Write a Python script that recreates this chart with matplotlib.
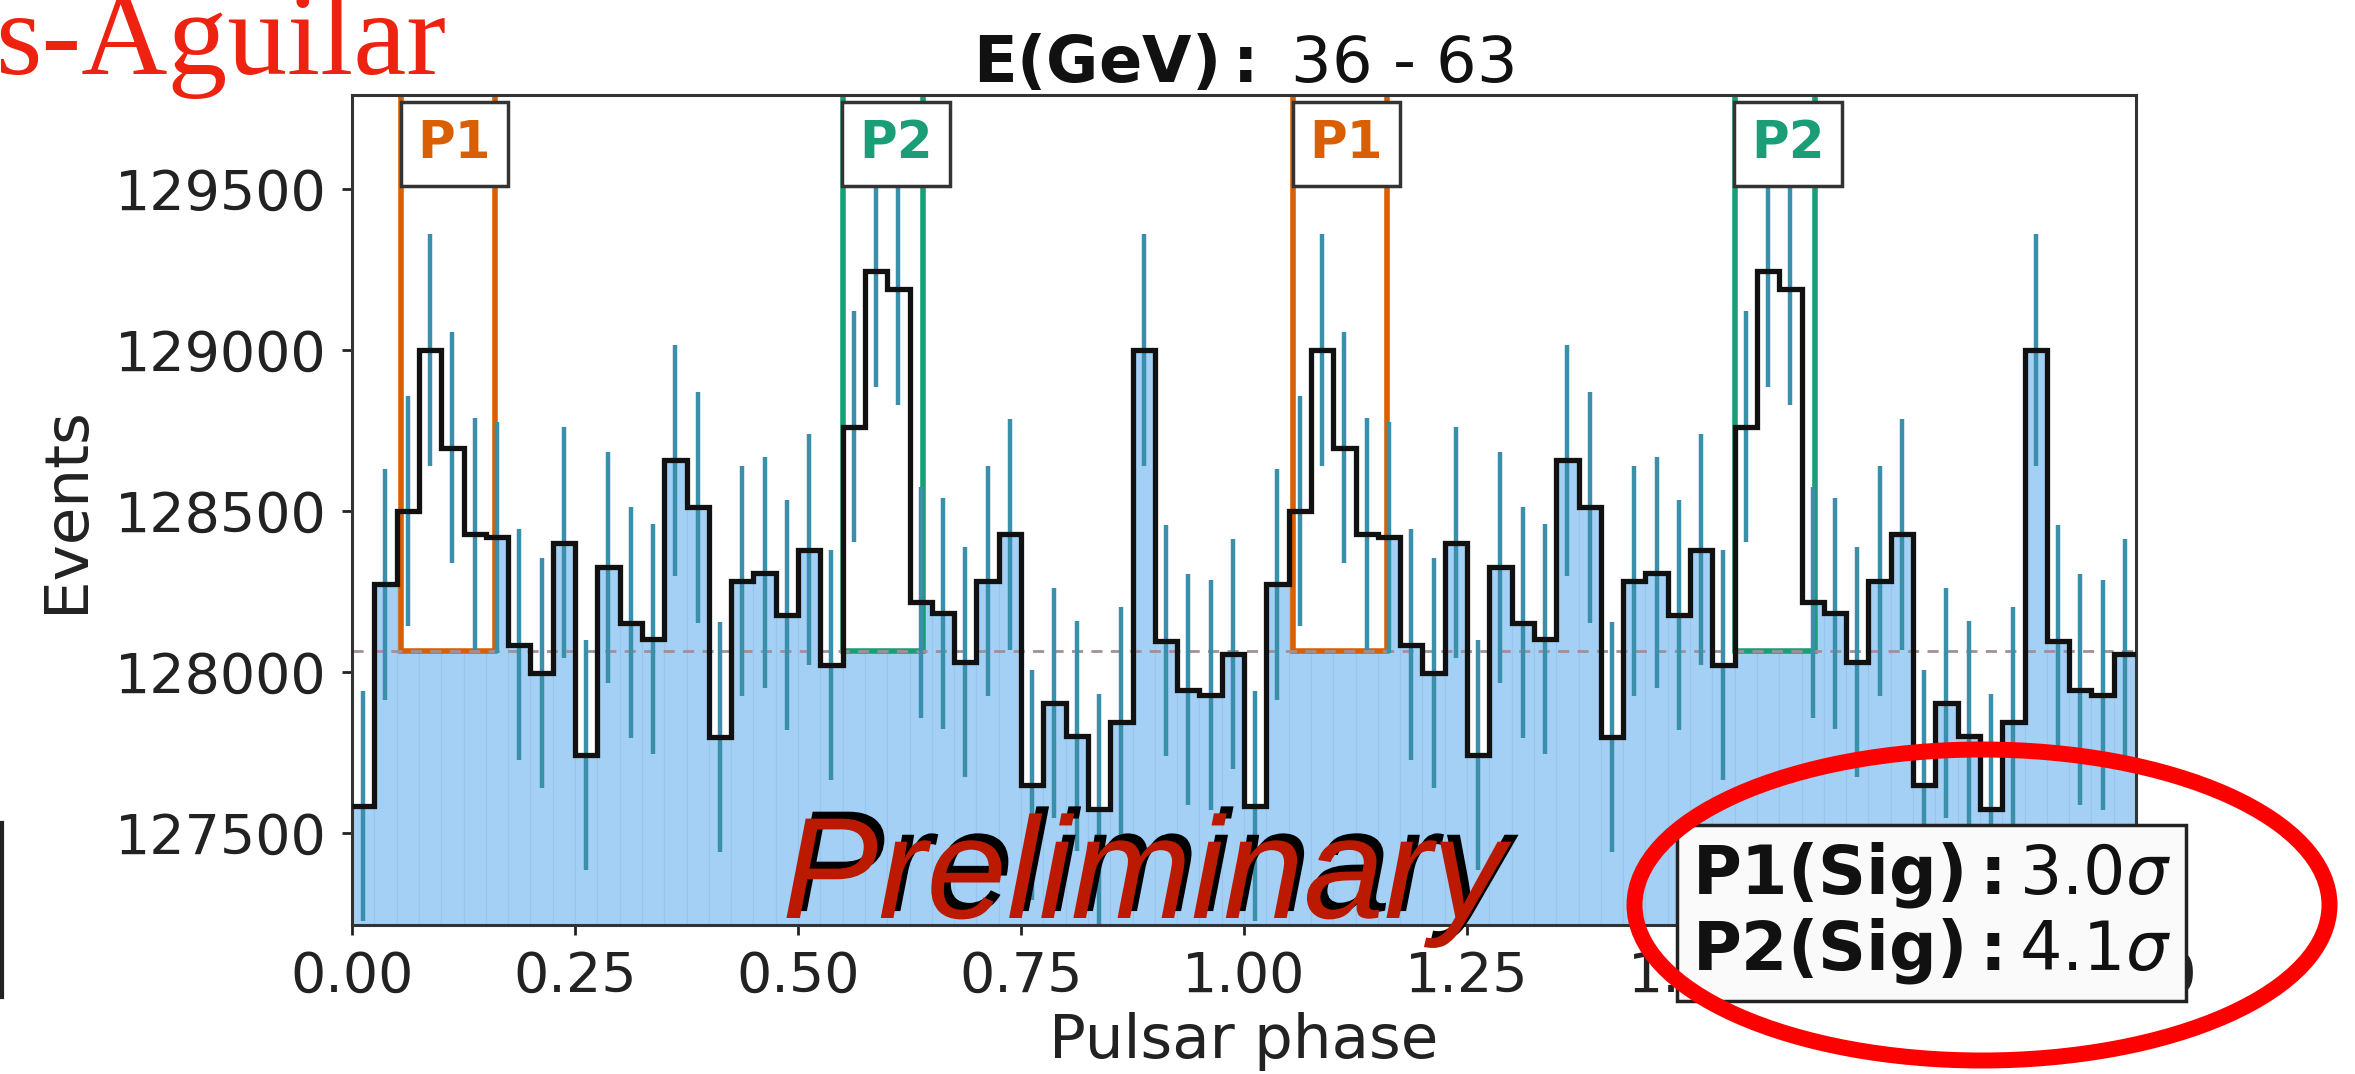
import numpy as np
import matplotlib
matplotlib.use("Agg")
import matplotlib.pyplot as plt
from matplotlib.patches import Rectangle, Ellipse
from matplotlib.lines import Line2D
import matplotlib.patheffects as pe

# counts in one pulsar cycle (40 phase bins); the plot shows the cycle twice
counts_cycle = [127585, 128272, 128500, 129000, 128697, 128430, 128418, 128085,
                127996, 128402, 127742, 128325, 128153, 128102, 128658, 128511,
                127798, 128283, 128308, 128177, 128380, 128021, 128761, 129246,
                129190, 128216, 128182, 128030, 128283, 128427, 127650, 127903,
                127802, 127573, 127844, 129000, 128097, 127945, 127928, 128055]
n_cycles = 2
background = 128065

peak_names = ["P1", "P2"]
peak_lo = [0.055, 0.55]
peak_hi = [0.16, 0.64]
peak_colors = ["#d95f02", "#1b9e77"]
peak_sigma = ["3.0", "4.1"]

energy_lo, energy_hi = "36", "63"
xticks = [0.0, 0.25, 0.5, 0.75, 1.0, 1.25, 1.5, 1.75, 2.0]
yticks = [127500, 128000, 128500, 129000, 129500]

counts = np.tile(counts_cycle, n_cycles)
nbins = len(counts)
edges = np.linspace(0, n_cycles, nbins + 1)
centers = 0.5 * (edges[1:] + edges[:-1])
width = edges[1] - edges[0]

W, H = 2355, 1074
fig = plt.figure(figsize=(W / 100, H / 100), dpi=100)
ax = fig.add_axes([352 / W, 1 - 925 / H, 1784 / W, 830 / H])

ax.bar(centers, counts, width=width, color="#a4d0f6", edgecolor="#96c6f0",
       linewidth=0.8, zorder=1)

for c in range(n_cycles):
    for name, lo, hi, col in zip(peak_names, peak_lo, peak_hi, peak_colors):
        ax.add_patch(Rectangle((c + lo, background), hi - lo, 5000, facecolor="white",
                               edgecolor=col, linewidth=4, zorder=2))
        ax.annotate(name, xy=(c + lo, 1), xycoords=("data", "axes fraction"),
                    xytext=(12, -17), textcoords="offset points", ha="left", va="top",
                    fontsize=37, fontweight="bold", color=col, zorder=6,
                    annotation_clip=False,
                    bbox=dict(boxstyle="square,pad=0.33", fc="white", ec="#333333", lw=2.5))

ax.axhline(background, color="#a09098", linestyle=(0, (4, 3)), linewidth=2, zorder=2.5)
ax.errorbar(centers, counts, yerr=np.sqrt(counts), fmt="none", ecolor="#3a8fab",
            elinewidth=3.2, zorder=3)
ax.stairs(counts, edges, baseline=None, color="#111111", linewidth=3.8, zorder=4)

ax.set_xlim(0, n_cycles)
ax.set_ylim(127214, 129792)
ax.set_xticks(xticks)
ax.set_xticklabels([f"{t:.2f}" for t in xticks])
ax.set_yticks(yticks)
ax.tick_params(labelsize=40, length=7, width=2, pad=11, colors="#222222")
for s in ax.spines.values():
    s.set_linewidth(2.2)
    s.set_color("#333333")
ax.set_xlabel("Pulsar phase", fontsize=44, color="#222222", labelpad=6)
ax.set_ylabel("Events", fontsize=44, color="#222222", labelpad=14)
ax.set_title(r"$\bf{E(GeV):}$ " + f"{energy_lo} - {energy_hi}", fontsize=46, pad=6,
             color="#111111")

stats = "\n".join(r"$\bf{" + n + r"(Sig):}$" + s + r"$\sigma$"
                  for n, s in zip(peak_names, peak_sigma))
ax.text((1692 - 352) / 1784, (925 - 840) / 830, stats, transform=ax.transAxes,
        ha="left", va="top", fontsize=48, color="#111111", zorder=10, clip_on=False,
        linespacing=1.12,
        bbox=dict(boxstyle="square,pad=0.22", fc="#fafafa", ec="#222222", lw=2.5))

fig.text(782 / W, 1 - 918 / H, "Preliminary", fontsize=104, style="italic",
         family="Liberation Sans", color="#bb1a00", va="baseline", ha="left",
         path_effects=[pe.SimplePatchShadow(offset=(5, 5), shadow_rgbFace="black", alpha=1),
                       pe.Normal()])

fig.text(-0.002, 1 - 74 / H, "s-Aguilar", fontsize=86, family="Liberation Serif",
         color="#ee2211", va="baseline", ha="left")

fig.add_artist(Ellipse((1982 / W, 1 - 905 / H), 695 / W, 311 / H, transform=fig.transFigure,
                       fill=False, edgecolor="#ff0000", linewidth=11.5, zorder=20))
fig.add_artist(Line2D([2 / W, 2 / W], [1 - 823 / H, 1 - 997 / H], transform=fig.transFigure,
                      color="#222222", linewidth=3))

fig.savefig("out.png", dpi=100)
